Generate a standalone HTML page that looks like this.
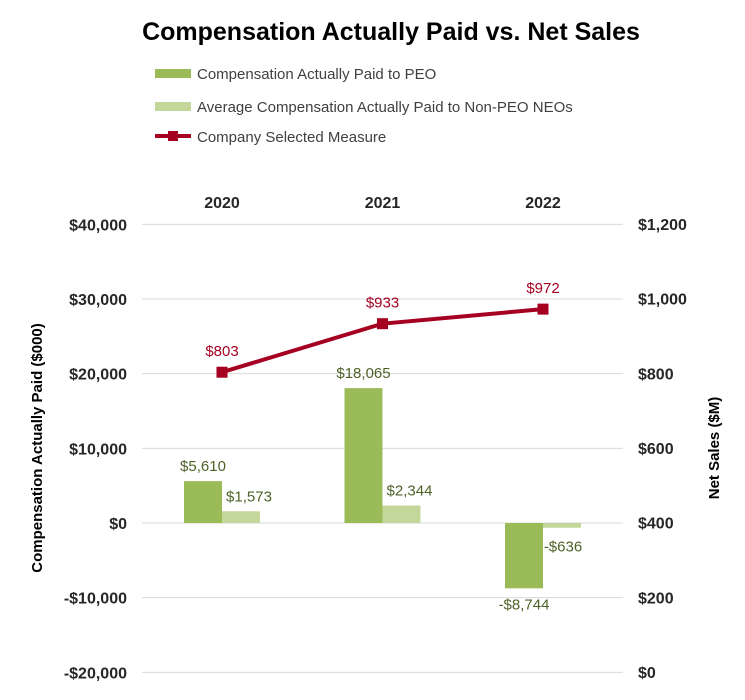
<!DOCTYPE html>
<html><head><meta charset="utf-8"><style>
body{margin:0;background:#fff;}
svg text{font-family:"Liberation Sans",sans-serif;}
</style></head><body>
<svg id="chart" width="745" height="695" viewBox="0 0 745 695" xmlns="http://www.w3.org/2000/svg">
<text x="391" y="40" text-anchor="middle" font-size="25" font-weight="bold" fill="#000">Compensation Actually Paid vs. Net Sales</text>
<g>
<g><rect x="155" y="69" width="36" height="9" fill="#9bbb59"/><text x="197" y="79" font-size="15" fill="#404040">Compensation Actually Paid to PEO</text></g>
<g><rect x="155" y="102" width="36" height="9" fill="#c4d79b"/><text x="197" y="112" font-size="15" fill="#404040">Average Compensation Actually Paid to Non-PEO NEOs</text></g>
<g><line x1="155" y1="136" x2="191" y2="136" stroke="#a50021" stroke-width="4"/><rect x="168" y="131" width="10" height="10" fill="#a50021"/><text x="197" y="142" font-size="15" fill="#404040">Company Selected Measure</text></g>
</g>
<g id="grid"></g><g id="bars"></g><g id="line"></g><g id="axes"></g>
<text transform="translate(42,448) rotate(-90)" text-anchor="middle" font-size="15" font-weight="bold" fill="#000">Compensation Actually Paid ($000)</text>
<text transform="translate(719,448) rotate(-90)" text-anchor="middle" font-size="15" font-weight="bold" fill="#000">Net Sales ($M)</text>
</svg>
<script>
const categories=["2020","2021","2022"];
const peo=[5610,18065,-8744];
const neo=[1573,2344,-636];
const sales=[803,933,972];
const leftTicks=[40000,30000,20000,10000,0,-10000,-20000];
const rightTicks=[1200,1000,800,600,400,200,0];
const NS="http://www.w3.org/2000/svg";
const yL=v=>523-v*0.007467;
const yR=v=>672-v*0.37333;
const xC=i=>222+i*160.5;
function mk(tag,attrs,parent,text){const e=document.createElementNS(NS,tag);for(const k in attrs)e.setAttribute(k,attrs[k]);if(text!==undefined)e.textContent=text;document.getElementById(parent).appendChild(e);return e;}
const fmt=v=>(v<0?"-$":"$")+Math.abs(v).toLocaleString("en-US");
leftTicks.forEach(t=>{
 const g=mk("line",{x1:142,x2:623,y1:yL(t),y2:yL(t),stroke:"#d9d9d9","stroke-width":1},"grid");
 
 
 const l=mk("text",{x:127,y:yL(t)+6,"text-anchor":"end","font-size":16,"font-weight":"bold",fill:"#262626"},"axes",fmt(t));
 
 
});
rightTicks.forEach(t=>{
 const l=mk("text",{x:638,y:yR(t)+6,"font-size":16,"font-weight":"bold",fill:"#262626"},"axes",fmt(t));
 
 
});
categories.forEach((c,i)=>{
 const l=mk("text",{x:xC(i),y:208,"text-anchor":"middle","font-size":16,"font-weight":"bold",fill:"#262626"},"axes",c);
 
 
 const bw=38;
 const y0=yL(0);
 const p=yL(peo[i]);
 const b1=mk("rect",{x:xC(i)-bw,y:Math.min(p,y0),width:bw,height:Math.abs(p-y0),fill:"#9bbb59"},"bars");
 
 
 const n=yL(neo[i]);
 const b2=mk("rect",{x:xC(i),y:Math.min(n,y0),width:bw,height:Math.abs(n-y0),fill:"#c4d79b"},"bars");
 
 
 const t1=mk("text",{x:xC(i)-bw/2,y:peo[i]>=0?p-10:p+21,"text-anchor":"middle","font-size":15,fill:"#4f6228"},"bars",fmt(peo[i]));
 
 
 const t2=mk("text",{x:neo[i]>=0?xC(i)+bw/2+8:xC(i)+bw-18,y:neo[i]>=0?n-10:n+24,"text-anchor":"middle","font-size":15,fill:"#4f6228"},"bars",fmt(neo[i]));
 
 
});
const pts=sales.map((v,i)=>xC(i)+","+yR(v)).join(" ");
const pl=mk("polyline",{points:pts,fill:"none",stroke:"#a50021","stroke-width":4},"line");


sales.forEach((v,i)=>{
 const m=mk("rect",{x:xC(i)-5.5,y:yR(v)-5.5,width:11,height:11,fill:"#a50021"},"line");
 
 
 const t=mk("text",{x:xC(i),y:yR(v)-16,"text-anchor":"middle","font-size":15,fill:"#a50021"},"line",fmt(v));
 
 
});
</script>
</body></html>
